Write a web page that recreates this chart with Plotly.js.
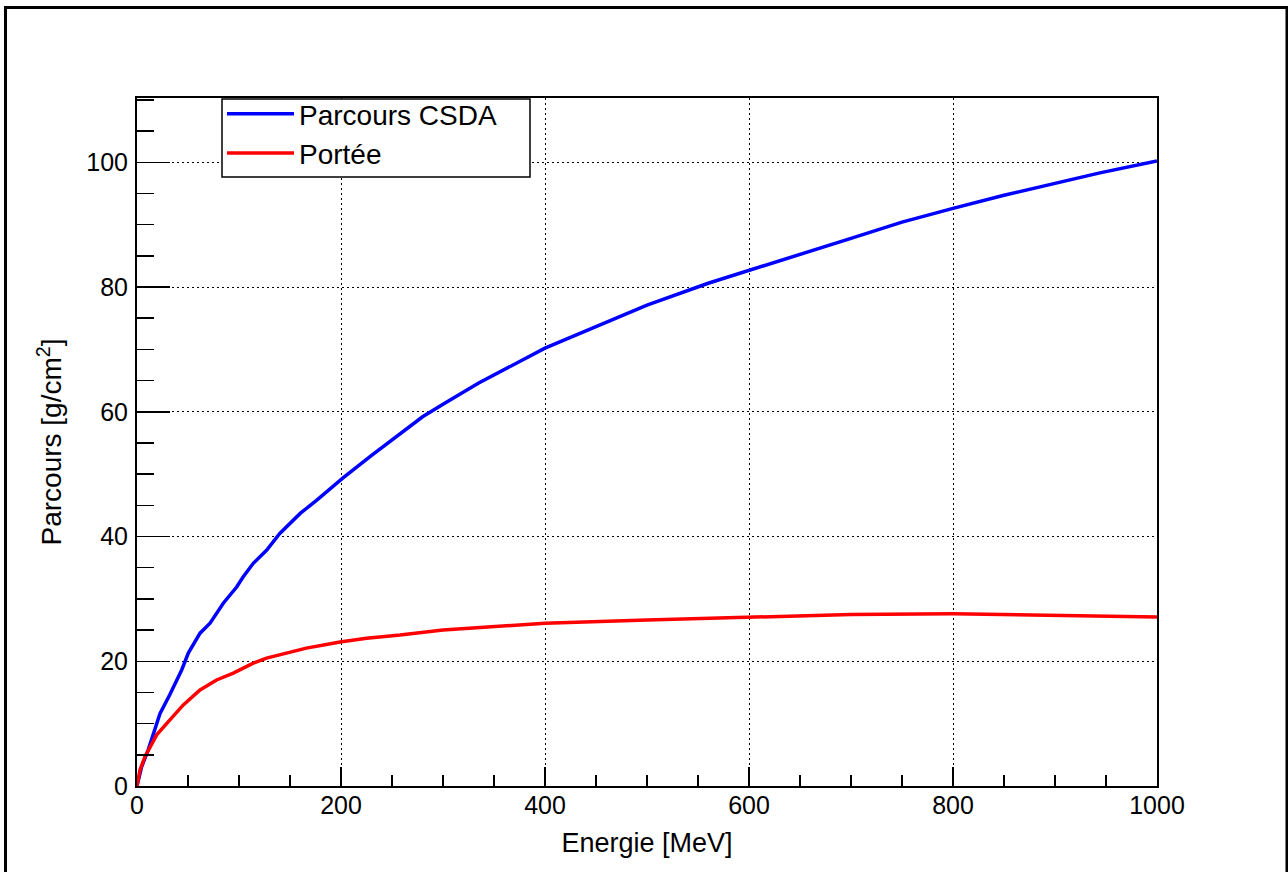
<!DOCTYPE html>
<html>
<head>
<meta charset="utf-8">
<script src="https://cdn.plot.ly/plotly-3.0.1.min.js"></script>
<style>
  html, body { margin: 0; padding: 0; background: #ffffff; }
  #chart { width: 1288px; height: 872px; }
</style>
</head>
<body>
<div id="chart"></div>
<script>
// ---- Data ----
const energyCSDA = [0, 4.6, 11, 17.5, 22.5, 32, 43.8, 50.3, 61.8, 71.6, 84.6, 97.7, 104, 114, 127, 140, 150, 160, 176, 202, 230, 258, 280, 300, 335, 400, 450, 500, 560, 600, 650, 700, 750, 780, 800, 850, 900, 944, 1000];
const rangeCSDA  = [0, 3.1, 5.8, 9.0, 11.6, 14.6, 18.6, 21.3, 24.5, 26.1, 29.3, 31.9, 33.5, 35.7, 37.8, 40.5, 42.1, 43.7, 45.8, 49.4, 53.0, 56.5, 59.2, 61.2, 64.6, 70.2, 73.7, 77.1, 80.6, 82.7, 85.3, 87.8, 90.4, 91.8, 92.6, 94.7, 96.6, 98.3, 100.2];

const energyPortee = [0, 3, 7.8, 12.7, 19.3, 29, 45.4, 61.8, 78, 94.4, 114, 127, 147, 166, 192.5, 199, 225, 258, 300, 350, 400, 500, 600, 700, 800, 900, 1000];
const portee       = [0, 2.6, 4.7, 6.3, 8.2, 10.0, 13.0, 15.4, 17.0, 18.1, 19.7, 20.5, 21.3, 22.1, 22.9, 23.1, 23.7, 24.2, 25.0, 25.6, 26.1, 26.6, 27.1, 27.5, 27.6, 27.4, 27.1];

const seriesNames = ["Parcours CSDA", "Portée"];
const xTitle = "Energie [MeV]";
const yTitle = "Parcours [g/cm<sup>2</sup>]";

// ---- Layout geometry ----
const W = 1288, H = 872;
const mL = 137, mR = 131, mT = 98, mB = 86;
const pw = W - mL - mR, ph = H - mT - mB;
const px = v => (v - mL) / pw;          // pixel -> paper x
const py = v => (H - mB - v) / ph;      // pixel -> paper y

const font = "Liberation Sans, Arial, Helvetica, sans-serif";
const gridDash = "2px,3px";

const traces = [
  { x: energyCSDA, y: rangeCSDA, name: seriesNames[0], type: "scatter", mode: "lines",
    line: { color: "#0000ff", width: 3.5, shape: "linear" } },
  { x: energyPortee, y: portee, name: seriesNames[1], type: "scatter", mode: "lines",
    line: { color: "#ff0000", width: 3.5, shape: "linear" } }
];

const layout = {
  width: W, height: H,
  margin: { l: mL, r: mR, t: mT, b: mB, pad: 0 },
  paper_bgcolor: "#ffffff",
  plot_bgcolor: "#ffffff",
  font: { family: font, color: "#000000", size: 24 },
  showlegend: true,
  legend: {
    x: px(222), y: py(89), xanchor: "left", yanchor: "top",
    bgcolor: "rgba(0,0,0,0)", bordercolor: "rgba(0,0,0,0)", borderwidth: 0,
    font: { family: font, size: 28, color: "#000000" },
    itemwidth: 67, tracegroupgap: 0
  },
  xaxis: {
    range: [0, 1000], autorange: false,
    showline: true, mirror: true, linecolor: "#000000", linewidth: 2,
    ticks: "inside", ticklen: 19, tickwidth: 1.5, tickcolor: "#000000",
    dtick: 200, tick0: 0,
    tickfont: { family: font, size: 25, color: "#000000" },
    ticklabelstandoff: -4,
    showgrid: true, gridcolor: "#000000", griddash: gridDash, gridwidth: 1,
    zeroline: false,
    minor: { dtick: 50, ticks: "inside", ticklen: 11, tickwidth: 1.5, tickcolor: "#000000", showgrid: false },
    title: { text: xTitle, font: { family: font, size: 27, color: "#000000" }, standoff: 15 }
  },
  yaxis: {
    range: [0, 110.3], autorange: false,
    showline: true, mirror: true, linecolor: "#000000", linewidth: 2,
    ticks: "inside", ticklen: 33, tickwidth: 1.5, tickcolor: "#000000",
    dtick: 20, tick0: 0,
    tickfont: { family: font, size: 25, color: "#000000" },
    ticklabelstandoff: 2,
    showgrid: true, gridcolor: "#000000", griddash: gridDash, gridwidth: 1,
    zeroline: false,
    minor: { dtick: 5, ticks: "inside", ticklen: 17, tickwidth: 1.5, tickcolor: "#000000", showgrid: false },
    title: { text: yTitle, font: { family: font, size: 28, color: "#000000" }, standoff: 16 }
  },
  shapes: [
    // legend box
    { type: "rect", xref: "paper", yref: "paper",
      x0: px(222), x1: px(530), y0: py(177), y1: py(99),
      line: { color: "#000000", width: 1.5 }, fillcolor: "#ffffff", layer: "above" },
    // outer canvas frame
    { type: "rect", xref: "paper", yref: "paper",
      x0: px(5.5), x1: px(1287), y0: py(880), y1: py(7.5),
      line: { color: "#000000", width: 3 }, fillcolor: "rgba(0,0,0,0)", layer: "above" }
  ]
};

Plotly.newPlot("chart", traces, layout, { staticPlot: true, displayModeBar: false });
</script>
</body>
</html>
